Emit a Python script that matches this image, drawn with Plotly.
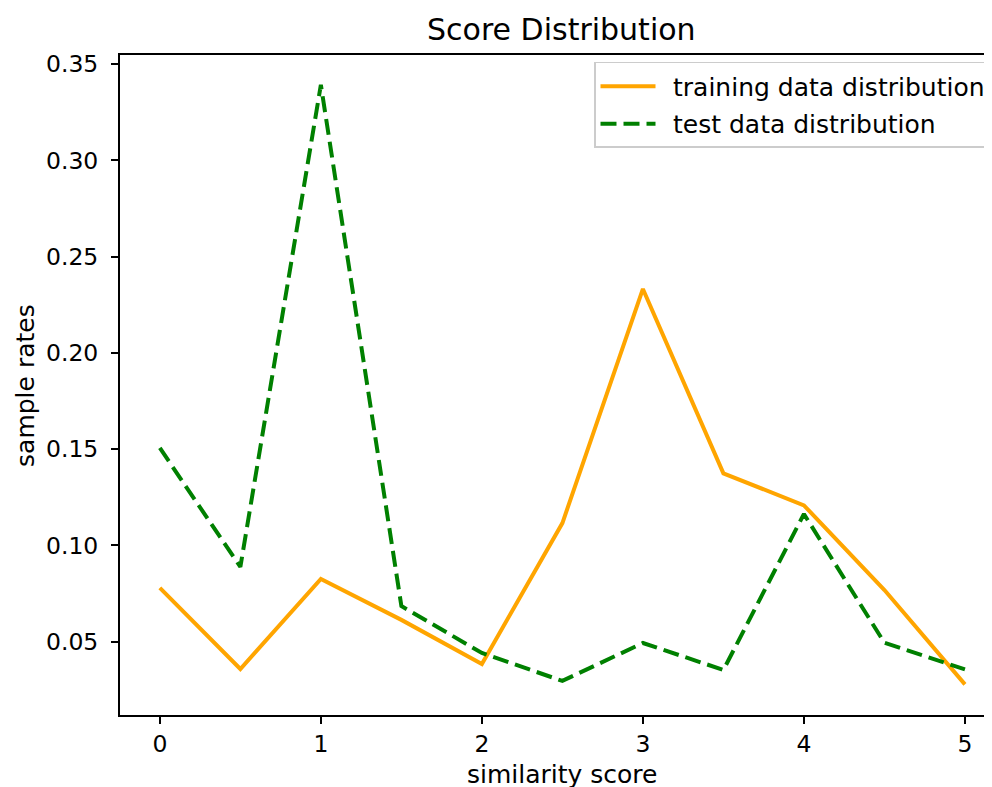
import plotly.graph_objects as go

scores = [0, 0.5, 1, 1.5, 2, 2.5, 3, 3.5, 4, 4.5, 5]
training = [0.0779, 0.0358, 0.0826, 0.0613, 0.0384, 0.1116, 0.2332, 0.1374, 0.1208, 0.0768, 0.0278]
test = [0.1506, 0.0888, 0.3392, 0.0685, 0.0441, 0.0296, 0.0493, 0.0353, 0.1163, 0.0494, 0.0356]
x_ticks = [0, 1, 2, 3, 4, 5]
y_ticks = [0.05, 0.10, 0.15, 0.20, 0.25, 0.30, 0.35]
series_names = ["training data distribution", "test data distribution"]

FONT = "DejaVu Sans"

fig = go.Figure()
fig.add_trace(go.Scatter(x=scores, y=training, mode="lines", name="\u2002" + series_names[0],
                         line=dict(color="#FFA500", width=4), legendgroup="a"))
fig.add_trace(go.Scatter(x=scores, y=test, mode="lines", name="\u2002" + series_names[1],
                         line=dict(color="#008000", width=4, dash="16px,7px"), legendgroup="b"))

# The page body has an 8px margin, so the figure is sized/offset to compensate.
fig.update_layout(
    width=984, height=779,
    margin=dict(l=112, r=0, t=47, b=72),
    paper_bgcolor="white", plot_bgcolor="white",
    font=dict(family=FONT, size=23, color="black"),
    showlegend=True,
    legend=dict(x=0.5436, y=0.9894, xanchor="left", yanchor="top",
                bgcolor="rgba(255,255,255,0.8)", bordercolor="#cccccc", borderwidth=1.5,
                font=dict(family=FONT, size=25, color="black"),
                itemwidth=55, tracegroupgap=2),
    xaxis=dict(range=[-0.2475, 5.168], tickvals=x_ticks, ticktext=[str(v) for v in x_ticks],
               automargin=False,
               showgrid=False, zeroline=False, showline=True, linecolor="black", linewidth=2,
               mirror=True, ticks="outside", ticklen=7, tickwidth=2, tickcolor="black",
               tickfont=dict(family=FONT, size=23.5, color="black")),
    yaxis=dict(range=[0.0119, 0.3547], tickvals=y_ticks, ticktext=[f"{v:.2f}" for v in y_ticks],
               automargin=False, ticklabelstandoff=8,
               showgrid=False, zeroline=False, showline=True, linecolor="black", linewidth=2,
               mirror=False, ticks="outside", ticklen=7, tickwidth=2, tickcolor="black",
               tickfont=dict(family=FONT, size=23.5, color="black")),
    annotations=[
        dict(text="Score Distribution", xref="paper", yref="paper", x=0.5063, y=1.038,
             xanchor="center", yanchor="middle", showarrow=False,
             font=dict(family=FONT, size=30, color="black")),
        dict(text="similarity score", xref="paper", yref="paper", x=0.507, y=-0.0909,
             xanchor="center", yanchor="middle", showarrow=False,
             font=dict(family=FONT, size=25, color="black")),
        dict(text="sample rates", xref="paper", yref="paper", x=-0.109, y=0.5,
             xanchor="center", yanchor="middle", showarrow=False, textangle=-90,
             font=dict(family=FONT, size=25, color="black")),
    ],
)

fig.write_html("out.html")
